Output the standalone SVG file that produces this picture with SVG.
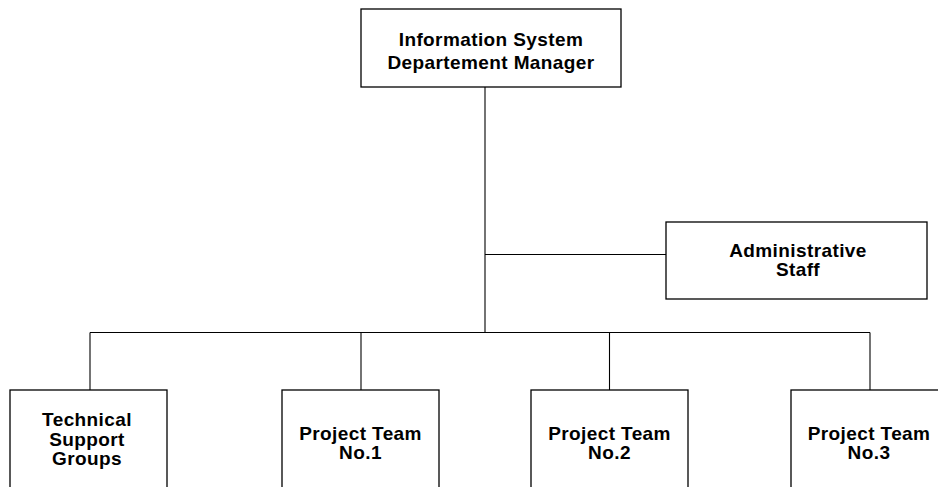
<svg xmlns="http://www.w3.org/2000/svg" width="938" height="487" viewBox="0 0 938 487">
<style>
.box{fill:#fff;stroke:#000;stroke-width:1.3}
.ln{stroke:#000;stroke-width:1.1;fill:none}
text{font-family:"Liberation Sans",Arial,sans-serif;font-weight:bold;font-size:19px;letter-spacing:0.4px;text-anchor:middle;fill:#000}
</style>
<rect width="938" height="487" fill="#fff"/>
<g id="connectors">
<line class="ln" x1="485" y1="87" x2="485" y2="333"/>
<line class="ln" x1="485" y1="254.5" x2="666" y2="254.5"/>
<line class="ln" x1="90" y1="332.5" x2="870" y2="332.5"/>
<line class="ln" x1="90" y1="332.5" x2="90" y2="390"/>
<line class="ln" x1="361" y1="332.5" x2="361" y2="390"/>
<line class="ln" x1="609.5" y1="332.5" x2="609.5" y2="390"/>
<line class="ln" x1="870" y1="332.5" x2="870" y2="390"/>
</g>
<g id="manager">
<rect class="box" x="361" y="9" width="260" height="78"/>
<text x="491" y="46">Information System</text>
<text x="491" y="69">Departement Manager</text>
</g>
<g id="admin">
<rect class="box" x="666" y="222" width="261" height="77"/>
<text x="798" y="257">Administrative</text>
<text x="798" y="276">Staff</text>
</g>
<g id="technical">
<rect class="box" x="10" y="390" width="157" height="110"/>
<text x="87" y="426">Technical</text>
<text x="87" y="445.5">Support</text>
<text x="87" y="465">Groups</text>
</g>
<g id="team1">
<rect class="box" x="282" y="390" width="157" height="110"/>
<text x="360.5" y="439.5">Project Team</text>
<text x="360.5" y="459">No.1</text>
</g>
<g id="team2">
<rect class="box" x="531" y="390" width="157" height="110"/>
<text x="609.5" y="439.5">Project Team</text>
<text x="609.5" y="459">No.2</text>
</g>
<g id="team3">
<rect class="box" x="791" y="390" width="158" height="110"/>
<text x="869" y="439.5">Project Team</text>
<text x="869" y="459">No.3</text>
</g>
</svg>
